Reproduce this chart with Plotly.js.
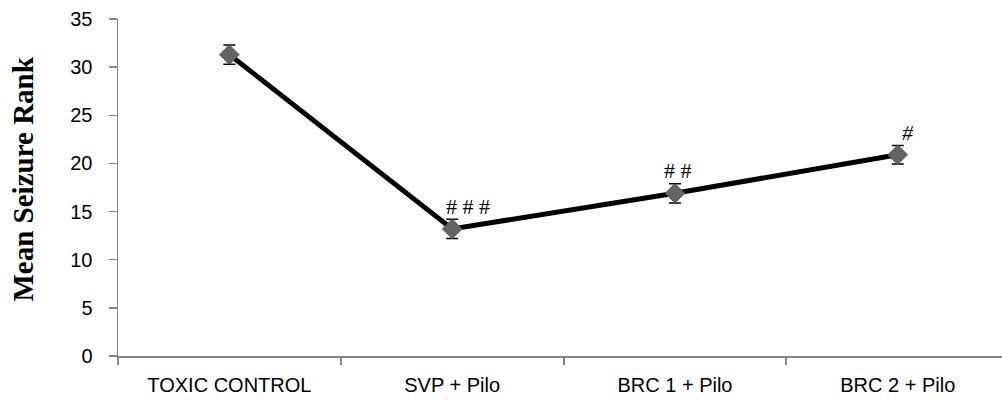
<!DOCTYPE html>
<html>
<head>
<meta charset="utf-8">
<script src="https://cdn.plot.ly/plotly-3.0.1.min.js"></script>
<style>html,body{margin:0;padding:0;background:#fff;}#chart{width:1002px;height:402px;}</style>
</head>
<body>
<div id="chart"></div>
<script>
const groups = ["TOXIC CONTROL", "SVP + Pilo", "BRC 1 + Pilo", "BRC 2 + Pilo"];
const meanRank = [31.3, 13.2, 16.9, 20.9];
const semRank = [1.0, 1.0, 1.0, 0.95];
const sigMarks = ["", "# # #", "# #", "<i>#</i>"];
const yTicks = [0, 5, 10, 15, 20, 25, 30, 35];
const yTitle = "Mean Seizure Rank";

const markXShift = [0, 16, 3, 10];

const trace = {
  x: groups,
  y: meanRank,
  type: "scatter",
  mode: "lines+markers",
  line: {color: "#000000", width: 5},
  marker: {symbol: "diamond", size: 15, color: "#646464", line: {color: "#555555", width: 1}},
  error_y: {type: "data", array: semRank, visible: true, color: "#000000", thickness: 1.5, width: 6},
  hoverinfo: "none",
  showlegend: false
};

const annotations = [];
groups.forEach((g, i) => {
  if (!sigMarks[i]) return;
  annotations.push({
    x: i, y: meanRank[i] + semRank[i], xref: "x", yref: "y",
    text: sigMarks[i], showarrow: false,
    xanchor: "center", yanchor: "middle",
    xshift: markXShift[i], yshift: 13,
    font: {family: "Liberation Serif, Times New Roman, serif", size: 22, color: "#000"}
  });
});
annotations.push({
  x: 0, y: 0.5237, xref: "paper", yref: "paper",
  text: "<b>" + yTitle + "</b>", showarrow: false, textangle: -90,
  xanchor: "center", yanchor: "middle", xshift: -95,
  font: {family: "Liberation Serif, Times New Roman, serif", size: 29, color: "#000"}
});

const layout = {
  width: 1002, height: 402,
  margin: {l: 118, r: 0, t: 19, b: 46, pad: 0},
  paper_bgcolor: "#fff", plot_bgcolor: "#fff",
  xaxis: {
    type: "category",
    range: [-0.5, 3.468],
    showgrid: false, zeroline: false,
    showline: true, linecolor: "#868686", linewidth: 2,
    ticks: "outside", tickson: "boundaries", ticklen: 7, tickwidth: 2, tickcolor: "#868686",
    tickfont: {family: "Liberation Sans, Arial, sans-serif", size: 20, color: "#000"},
    ticklabelstandoff: 10
  },
  yaxis: {
    range: [0, 35],
    tickvals: yTicks,
    showgrid: false, zeroline: false,
    showline: true, linecolor: "#868686", linewidth: 1.5,
    ticks: "outside", ticklen: 8, tickwidth: 1.5, tickcolor: "#868686",
    tickfont: {family: "Liberation Sans, Arial, sans-serif", size: 20, color: "#000"},
    ticklabelstandoff: 12
  },
  annotations: annotations
};

Plotly.newPlot("chart", [trace], layout, {displayModeBar: false, staticPlot: true});
</script>
</body>
</html>
